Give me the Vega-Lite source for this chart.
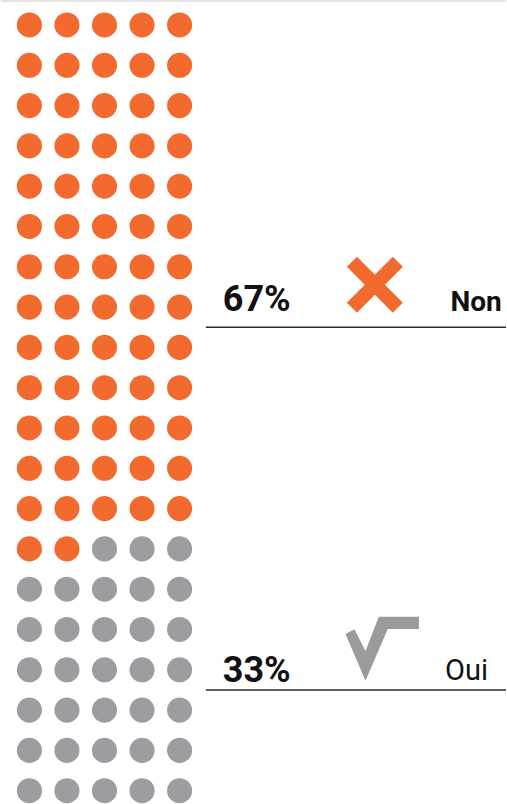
{
  "$schema": "https://vega.github.io/schema/vega-lite/v6.json",
  "width": 507,
  "height": 804,
  "autosize": {"type": "fit", "contains": "padding"},
  "padding": 0,
  "background": "white",
  "view": {"stroke": null},
  "datasets": {
    "dots": [
      {"col":1,"row":1,"answer":"Non"},{"col":2,"row":1,"answer":"Non"},{"col":3,"row":1,"answer":"Non"},{"col":4,"row":1,"answer":"Non"},{"col":5,"row":1,"answer":"Non"},
      {"col":1,"row":2,"answer":"Non"},{"col":2,"row":2,"answer":"Non"},{"col":3,"row":2,"answer":"Non"},{"col":4,"row":2,"answer":"Non"},{"col":5,"row":2,"answer":"Non"},
      {"col":1,"row":3,"answer":"Non"},{"col":2,"row":3,"answer":"Non"},{"col":3,"row":3,"answer":"Non"},{"col":4,"row":3,"answer":"Non"},{"col":5,"row":3,"answer":"Non"},
      {"col":1,"row":4,"answer":"Non"},{"col":2,"row":4,"answer":"Non"},{"col":3,"row":4,"answer":"Non"},{"col":4,"row":4,"answer":"Non"},{"col":5,"row":4,"answer":"Non"},
      {"col":1,"row":5,"answer":"Non"},{"col":2,"row":5,"answer":"Non"},{"col":3,"row":5,"answer":"Non"},{"col":4,"row":5,"answer":"Non"},{"col":5,"row":5,"answer":"Non"},
      {"col":1,"row":6,"answer":"Non"},{"col":2,"row":6,"answer":"Non"},{"col":3,"row":6,"answer":"Non"},{"col":4,"row":6,"answer":"Non"},{"col":5,"row":6,"answer":"Non"},
      {"col":1,"row":7,"answer":"Non"},{"col":2,"row":7,"answer":"Non"},{"col":3,"row":7,"answer":"Non"},{"col":4,"row":7,"answer":"Non"},{"col":5,"row":7,"answer":"Non"},
      {"col":1,"row":8,"answer":"Non"},{"col":2,"row":8,"answer":"Non"},{"col":3,"row":8,"answer":"Non"},{"col":4,"row":8,"answer":"Non"},{"col":5,"row":8,"answer":"Non"},
      {"col":1,"row":9,"answer":"Non"},{"col":2,"row":9,"answer":"Non"},{"col":3,"row":9,"answer":"Non"},{"col":4,"row":9,"answer":"Non"},{"col":5,"row":9,"answer":"Non"},
      {"col":1,"row":10,"answer":"Non"},{"col":2,"row":10,"answer":"Non"},{"col":3,"row":10,"answer":"Non"},{"col":4,"row":10,"answer":"Non"},{"col":5,"row":10,"answer":"Non"},
      {"col":1,"row":11,"answer":"Non"},{"col":2,"row":11,"answer":"Non"},{"col":3,"row":11,"answer":"Non"},{"col":4,"row":11,"answer":"Non"},{"col":5,"row":11,"answer":"Non"},
      {"col":1,"row":12,"answer":"Non"},{"col":2,"row":12,"answer":"Non"},{"col":3,"row":12,"answer":"Non"},{"col":4,"row":12,"answer":"Non"},{"col":5,"row":12,"answer":"Non"},
      {"col":1,"row":13,"answer":"Non"},{"col":2,"row":13,"answer":"Non"},{"col":3,"row":13,"answer":"Non"},{"col":4,"row":13,"answer":"Non"},{"col":5,"row":13,"answer":"Non"},
      {"col":1,"row":14,"answer":"Non"},{"col":2,"row":14,"answer":"Non"},{"col":3,"row":14,"answer":"Oui"},{"col":4,"row":14,"answer":"Oui"},{"col":5,"row":14,"answer":"Oui"},
      {"col":1,"row":15,"answer":"Oui"},{"col":2,"row":15,"answer":"Oui"},{"col":3,"row":15,"answer":"Oui"},{"col":4,"row":15,"answer":"Oui"},{"col":5,"row":15,"answer":"Oui"},
      {"col":1,"row":16,"answer":"Oui"},{"col":2,"row":16,"answer":"Oui"},{"col":3,"row":16,"answer":"Oui"},{"col":4,"row":16,"answer":"Oui"},{"col":5,"row":16,"answer":"Oui"},
      {"col":1,"row":17,"answer":"Oui"},{"col":2,"row":17,"answer":"Oui"},{"col":3,"row":17,"answer":"Oui"},{"col":4,"row":17,"answer":"Oui"},{"col":5,"row":17,"answer":"Oui"},
      {"col":1,"row":18,"answer":"Oui"},{"col":2,"row":18,"answer":"Oui"},{"col":3,"row":18,"answer":"Oui"},{"col":4,"row":18,"answer":"Oui"},{"col":5,"row":18,"answer":"Oui"},
      {"col":1,"row":19,"answer":"Oui"},{"col":2,"row":19,"answer":"Oui"},{"col":3,"row":19,"answer":"Oui"},{"col":4,"row":19,"answer":"Oui"},{"col":5,"row":19,"answer":"Oui"},
      {"col":1,"row":20,"answer":"Oui"},{"col":2,"row":20,"answer":"Oui"},{"col":3,"row":20,"answer":"Oui"},{"col":4,"row":20,"answer":"Oui"},{"col":5,"row":20,"answer":"Oui"}
    ],
    "rules": [{"x": 5.7, "x2": 13.692, "y": 8.5}, {"x": 5.7, "x2": 13.692, "y": 17.5}],
    "top": [{"x": 0.244, "x2": 13.692, "y": 0.405}],
    "pct": [{"x": 6.15, "y": 8.1, "text": "67%"}, {"x": 6.15, "y": 17.3, "text": "33%"}],
    "non": [{"x": 13.58, "y": 8.1, "text": "Non"}],
    "oui": [{"x": 12.07, "y": 17.25, "text": "Oui"}],
    "cross": [{"x": 10.2, "y": 7.445}],
    "check": [{"x": 10.395, "y": 16.477}]
  },
  "layer": [
    {
      "data": {"name": "top"},
      "mark": {"type": "rule", "color": "#e6e3e5", "strokeWidth": 2},
      "encoding": {
        "x": {"field": "x", "type": "quantitative", "scale": {"domain": [0.244, 13.692], "nice": false, "zero": false}, "axis": null},
        "x2": {"field": "x2"},
        "y": {"field": "y", "type": "quantitative", "scale": {"domain": [0.38, 20.33], "nice": false, "zero": false, "reverse": true}, "axis": null}
      }
    },
    {
      "data": {"name": "dots"},
      "mark": {"type": "circle", "size": 630, "opacity": 1},
      "encoding": {
        "x": {"field": "col", "type": "quantitative", "scale": {"domain": [0.244, 13.692], "nice": false, "zero": false}, "axis": null},
        "y": {"field": "row", "type": "quantitative", "scale": {"domain": [0.38, 20.33], "nice": false, "zero": false, "reverse": true}, "axis": null},
        "color": {"field": "answer", "type": "nominal", "scale": {"domain": ["Non", "Oui"], "range": ["#f26a2e", "#9c9da1"]}, "legend": null}
      }
    },
    {
      "data": {"name": "rules"},
      "mark": {"type": "rule", "color": "#2a2a2a", "strokeWidth": 1.5},
      "encoding": {
        "x": {"field": "x", "type": "quantitative"},
        "x2": {"field": "x2"},
        "y": {"field": "y", "type": "quantitative"}
      }
    },
    {
      "data": {"name": "pct"},
      "mark": {"type": "text", "align": "left", "baseline": "alphabetic", "font": "Roboto", "fontWeight": "bold", "fontSize": 36, "color": "#111111"},
      "encoding": {
        "x": {"field": "x", "type": "quantitative"},
        "y": {"field": "y", "type": "quantitative"},
        "text": {"field": "text"}
      }
    },
    {
      "data": {"name": "non"},
      "mark": {"type": "text", "align": "right", "baseline": "alphabetic", "font": "Roboto", "fontWeight": "bold", "fontSize": 28, "color": "#111111"},
      "encoding": {
        "x": {"field": "x", "type": "quantitative"},
        "y": {"field": "y", "type": "quantitative"},
        "text": {"field": "text"}
      }
    },
    {
      "data": {"name": "oui"},
      "mark": {"type": "text", "align": "left", "baseline": "alphabetic", "font": "Roboto", "fontWeight": "normal", "fontSize": 29, "color": "#111111"},
      "encoding": {
        "x": {"field": "x", "type": "quantitative"},
        "y": {"field": "y", "type": "quantitative"},
        "text": {"field": "text"}
      }
    },
    {
      "data": {"name": "cross"},
      "mark": {"type": "point", "shape": "M-1,-0.64L-0.64,-1L0,-0.36L0.64,-1L1,-0.64L0.36,0L1,0.64L0.64,1L0,0.36L-0.64,1L-1,0.64L-0.36,0Z", "size": 3136, "filled": true, "color": "#f26a2e", "opacity": 1, "strokeWidth": 0},
      "encoding": {
        "x": {"field": "x", "type": "quantitative"},
        "y": {"field": "y", "type": "quantitative"}
      }
    },
    {
      "data": {"name": "check"},
      "mark": {"type": "point", "shape": "M-1,-0.4L-0.756,-0.529L-0.455,0.063L-0.093,-0.872L1,-0.872L1,-0.537L0.153,-0.537L-0.455,0.872Z", "size": 5388, "filled": true, "color": "#9b9b9d", "opacity": 1, "strokeWidth": 0},
      "encoding": {
        "x": {"field": "x", "type": "quantitative"},
        "y": {"field": "y", "type": "quantitative"}
      }
    }
  ]
}
